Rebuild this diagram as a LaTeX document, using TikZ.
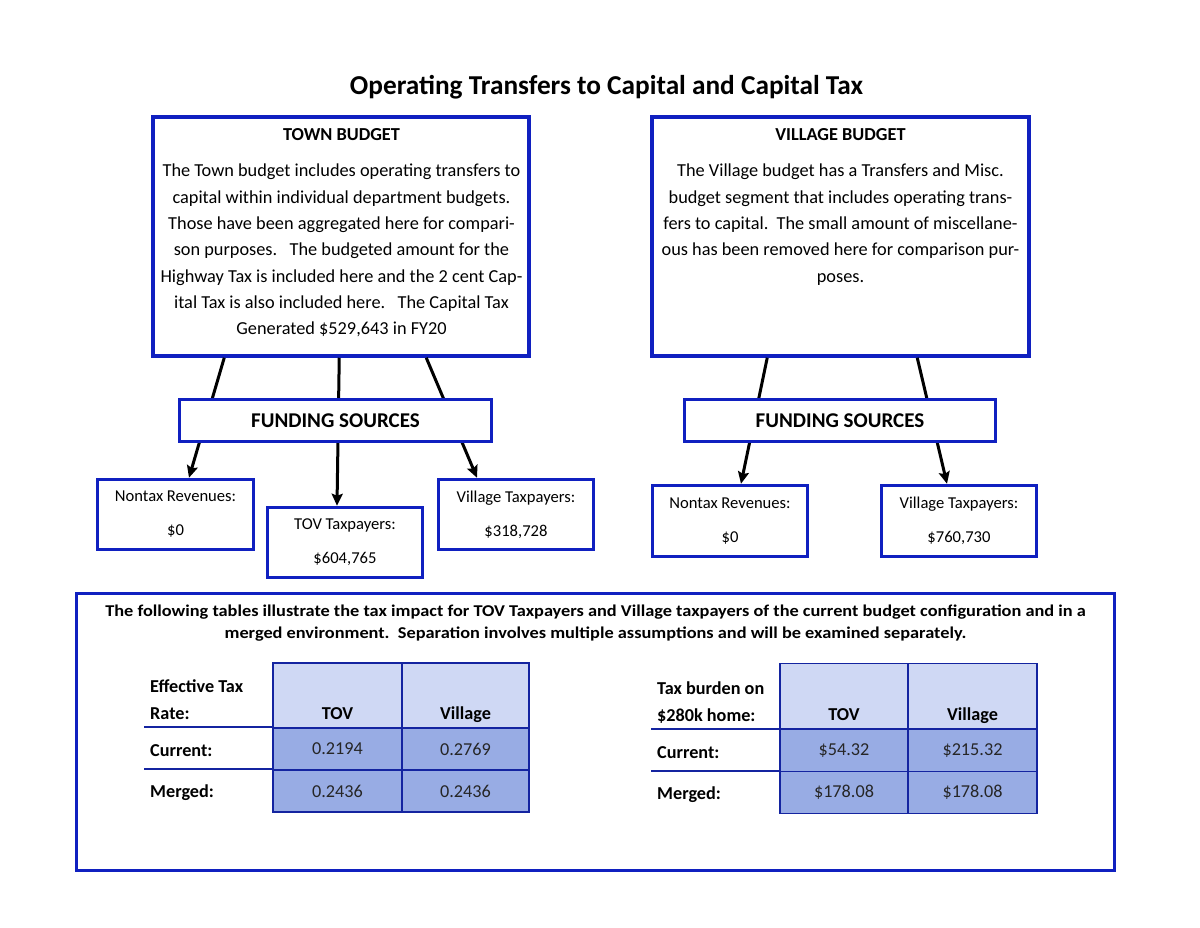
\documentclass[tikz,border=0pt]{standalone}
\usepackage{fontspec}
\setmainfont{Carlito}
\usetikzlibrary{arrows.meta}
\definecolor{boxblue}{RGB}{16,32,192}
\definecolor{hdrfill}{RGB}{207,216,244}
\definecolor{datfill}{RGB}{152,172,228}
\definecolor{tabline}{RGB}{20,36,160}
\tikzset{
  bbox/.style={draw=boxblue, line width=3.5pt, fill=white, inner sep=0pt},
  body/.style={font=\fontsize{18.3}{26.3}\selectfont, align=center, inner sep=0pt},
  small/.style={font=\fontsize{16.6}{34}\selectfont, align=center, inner sep=0pt},
  bhead/.style={font=\fontsize{18.3}{20}\selectfont\bfseries, inner sep=0pt, anchor=base},
  conn/.style={line width=3pt, -{Stealth[length=12pt,width=11pt,inset=2pt]}},
  cellh/.style={draw=tabline, line width=1.8pt, fill=hdrfill, minimum height=65pt, inner sep=0pt},
  celld/.style={draw=tabline, line width=1.8pt, fill=datfill, minimum height=42pt, inner sep=0pt,
                font=\fontsize{18.2}{20}\selectfont, text=black!85},
  rowline/.style={draw=tabline, line width=1.8pt},
  lbl/.style={font=\fontsize{18.2}{20}\selectfont\bfseries, inner sep=0pt, anchor=base west},
}
\begin{document}
\begin{tikzpicture}[x=1pt,y=-1pt]
\useasboundingbox (0,0) rectangle (1200,927);
\fill[white] (0,0) rectangle (1200,927);

% title
\node[font=\fontsize{27.3}{30}\selectfont\bfseries, inner sep=0pt, anchor=base] (title) at (606.5,94) {Operating Transfers to Capital and Capital Tax};

% budget boxes
\node[bbox, minimum width=376pt, minimum height=239pt] (town) at (341,236.5) {};
\node[bbox, minimum width=377pt, minimum height=239pt] (village) at (840.5,236.5) {};
\node[bhead] (townh) at (341.5,140) {TOWN BUDGET};
\node[bhead] (villh) at (840.5,140) {VILLAGE BUDGET};
\node[body, anchor=north] (townt) at (341.5,164) {The Town budget includes operating transfers to\\
capital within individual department budgets.\\
Those have been aggregated here for compari-\\
son purposes.\ \ \ The budgeted amount for the\\
Highway Tax is included here and the 2 cent Cap-\\
ital Tax is also included here.\ \ \ The Capital Tax\\
Generated \$529,643 in FY20};
\node[body, anchor=north] (villt) at (840.5,164) {The Village budget has a Transfers and Misc.\\
budget segment that includes operating trans-\\
fers to capital.\ \ The small amount of miscellane-\\
ous has been removed here for comparison pur-\\
poses.};

% funding source children (left)
\node[bbox, minimum width=156pt, minimum height=70pt, small] (nontaxL) at (175.5,514.5) {Nontax Revenues:\\ \$0};
\node[bbox, minimum width=155pt, minimum height=70pt, small] (tovL) at (345,542.5) {TOV Taxpayers:\\ \$604,765};
\node[bbox, minimum width=155pt, minimum height=70pt, small] (villL) at (516,514.5) {Village Taxpayers:\\ \$318,728};
% funding source children (right)
\node[bbox, minimum width=155pt, minimum height=71pt, small] (nontaxR) at (730,521) {Nontax Revenues:\\ \$0};
\node[bbox, minimum width=155pt, minimum height=71pt, small] (villR) at (959,521) {Village Taxpayers:\\ \$760,730};

% connectors
\draw[conn] ([xshift=73pt]town.south west) -- ([xshift=13.5pt]nontaxL.north);
\draw[conn] ([xshift=188pt]town.south west) -- ([xshift=-8pt]tovL.north);
\draw[conn] ([xshift=275pt]town.south west) -- ([xshift=-39pt]villL.north);
\draw[conn] ([xshift=117pt]village.south west) -- ([xshift=11pt]nontaxR.north);
\draw[conn] ([xshift=267pt]village.south west) -- ([xshift=-12pt]villR.north);

% funding sources boxes (drawn over the connectors)
\node[bbox, minimum width=312pt, minimum height=42pt, font=\fontsize{21}{24}\selectfont\bfseries] (fundL) at (335.5,420.5) {FUNDING SOURCES};
\node[bbox, minimum width=311pt, minimum height=42pt, font=\fontsize{21}{24}\selectfont\bfseries] (fundR) at (840,420.5) {FUNDING SOURCES};

% bottom box
\node[bbox, fill=none, minimum width=1038pt, minimum height=277pt] (bottom) at (595.5,732) {};
\node[font=\fontsize{16.5}{22}\selectfont\bfseries, align=center, inner sep=0pt] (para) at (595.5,623.5)
 {\scalebox{1.11}[1]{The following tables illustrate the tax impact for TOV Taxpayers and Village taxpayers of the current budget configuration and in a}\\
  \scalebox{1.11}[1]{merged environment.\ \ Separation involves multiple assumptions and will be examined separately.}};

% left table
\node[cellh, minimum width=128.5pt] (tovH1) at (337.5,695.5) {};
\node[cellh, minimum width=127pt] (vilH1) at (465.5,695.5) {};
\node[celld, minimum width=128.5pt] (tovC1) at (337.5,749) {0.2194};
\node[celld, minimum width=127pt] (vilC1) at (465.5,749) {0.2769};
\node[celld, minimum width=128.5pt] (tovM1) at (337.5,791) {0.2436};
\node[celld, minimum width=127pt] (vilM1) at (465.5,791) {0.2436};
\node[lbl, anchor=base] (tovt1) at (337.5,719) {TOV};
\node[lbl, anchor=base] (vilt1) at (465.5,719) {Village};
\draw[rowline] ([xshift=-128pt]tovC1.north west) -- (tovC1.north west);
\draw[rowline] ([xshift=-128pt]tovM1.north west) -- (tovM1.north west);
\node[lbl] (eff1) at (150,692.5) {Effective Tax};
\node[lbl] (eff2) at (150,719) {Rate:};
\node[lbl] (cur1) at (150,756) {Current:};
\node[lbl] (mer1) at (150,797.5) {Merged:};

% right table
\node[cellh, minimum width=128pt] (tovH2) at (844,696) {};
\node[cellh, minimum width=128.5pt] (vilH2) at (972.5,696) {};
\node[celld, minimum width=128pt] (tovC2) at (844,750.5) {\$54.32};
\node[celld, minimum width=128.5pt] (vilC2) at (972.5,750.5) {\$215.32};
\node[celld, minimum width=128pt] (tovM2) at (844,792.5) {\$178.08};
\node[celld, minimum width=128.5pt] (vilM2) at (972.5,792.5) {\$178.08};
\node[lbl, anchor=base] (tovt2) at (844,720.5) {TOV};
\node[lbl, anchor=base] (vilt2) at (972.5,720.5) {Village};
\draw[rowline] ([xshift=-128pt]tovC2.north west) -- (tovC2.north west);
\draw[rowline] ([xshift=-128pt]tovM2.north west) -- (tovM2.north west);
\node[lbl] (tb1) at (657,694) {Tax burden on};
\node[lbl] (tb2) at (657,721) {\$280k home:};
\node[lbl] (cur2) at (657,758) {Current:};
\node[lbl] (mer2) at (657,799) {Merged:};
\end{tikzpicture}
\end{document}
